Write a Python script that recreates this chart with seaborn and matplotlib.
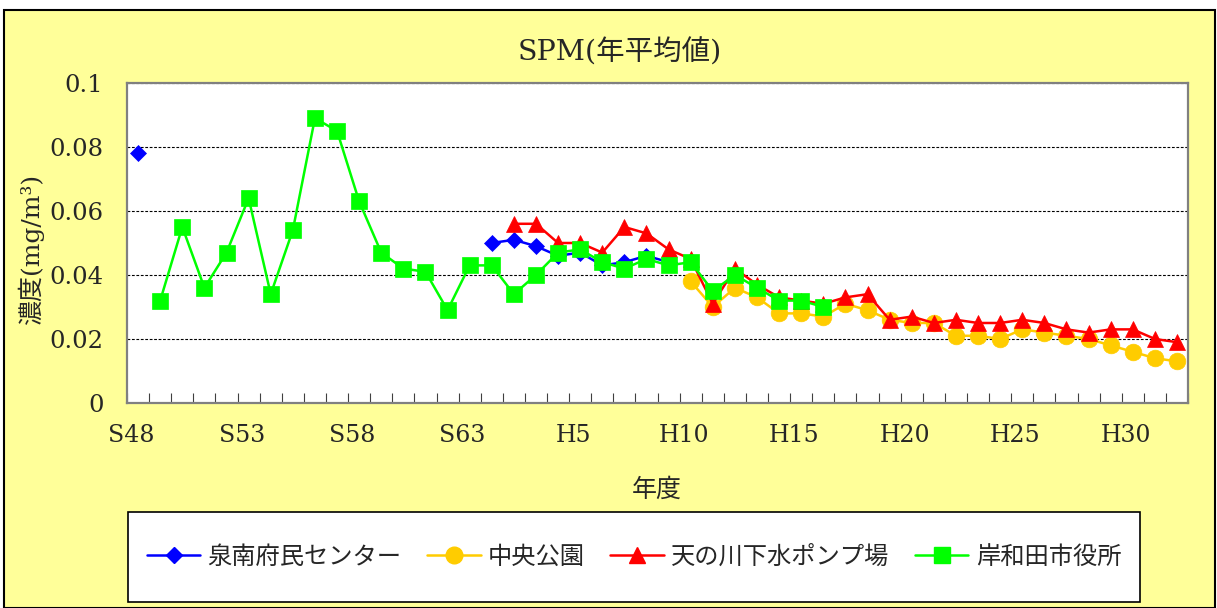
import numpy as np
import pandas as pd
import matplotlib
matplotlib.use("Agg")
import matplotlib.pyplot as plt
import matplotlib.transforms as mtransforms
from matplotlib.patches import Rectangle
from matplotlib.lines import Line2D
import seaborn as sns

nan = np.nan

# 年度ラベル (S48〜R2)
years = [f"S{n}" for n in range(48, 64)] + [f"H{n}" for n in range(1, 31)] + ["R1", "R2"]
shown_labels = ["S48", "S53", "S58", "S63", "H5", "H10", "H15", "H20", "H25", "H30"]

stations = ["泉南府民センター", "中央公園", "天の川下水ポンプ場", "岸和田市役所"]

sennan = ([0.078] + [nan] * 15
          + [0.050, 0.051, 0.049, 0.046, 0.047, 0.043, 0.044, 0.046, 0.044]
          + [nan] * 23)
chuo = [nan] * 25 + [0.038, 0.030, 0.036, 0.033, 0.028, 0.028, 0.027, 0.031, 0.029,
                     0.026, 0.025, 0.025, 0.021, 0.021, 0.020, 0.023, 0.022, 0.021,
                     0.020, 0.018, 0.016, 0.014, 0.013]
amanogawa = [nan] * 17 + [0.056, 0.056, 0.050, 0.050, 0.047, 0.055, 0.053, 0.048, 0.045,
                          0.031, 0.042, 0.037, 0.033, 0.032, 0.031, 0.033, 0.034, 0.026,
                          0.027, 0.025, 0.026, 0.025, 0.025, 0.026, 0.025, 0.023, 0.022,
                          0.023, 0.023, 0.020, 0.019]
kishiwada = [nan, 0.032, 0.055, 0.036, 0.047, 0.064, 0.034, 0.054, 0.089, 0.085, 0.063,
             0.047, 0.042, 0.041, 0.029, 0.043, 0.043, 0.034, 0.040, 0.047, 0.048, 0.044,
             0.042, 0.045, 0.043, 0.044, 0.035, 0.040, 0.036, 0.032, 0.032, 0.030] + [nan] * 16

df = pd.DataFrame({"idx": range(len(years)), "year": years,
                   stations[0]: sennan, stations[1]: chuo,
                   stations[2]: amanogawa, stations[3]: kishiwada})
long = df.melt(id_vars=["idx", "year"], var_name="station", value_name="value")

styles = {
    stations[0]: dict(color="#0000FF", marker="D", ms=8.5),
    stations[1]: dict(color="#FFCC00", marker="o", ms=12),
    stations[2]: dict(color="#FF0000", marker="^", ms=12),
    stations[3]: dict(color="#00FF00", marker="s", ms=12),
}

sns.set_theme(style="white")
plt.rcParams["font.family"] = ["DejaVu Serif", "Noto Sans CJK JP"]

fig = plt.figure(figsize=(12.17, 6.08), dpi=100)
fig.patch.set_facecolor("white")
fig.patches.append(Rectangle((0.003, 0.0), 0.995, 0.983, transform=fig.transFigure,
                             facecolor="#FFFF99", edgecolor="black", lw=1.5, zorder=-10))
# 凡例の枠
fig.patches.append(Rectangle((0.1052, 0.0099), 0.8316, 0.148, transform=fig.transFigure,
                             facecolor="white", edgecolor="black", lw=1.2, zorder=-5))

ax = fig.add_axes([0.1044, 0.3372, 0.8718, 0.5263])
ax.set_facecolor("white")

handles = []
for s in stations:
    st = styles[s]
    sub = long[long["station"] == s].copy()
    sub["seg"] = sub["value"].isna().cumsum()
    sub = sub.dropna()
    sns.lineplot(data=sub, x="idx", y="value", units="seg", estimator=None, sort=False,
                 color=st["color"], marker=st["marker"], markersize=st["ms"],
                 markeredgecolor=st["color"], markeredgewidth=0.5, linewidth=1.8,
                 legend=False, ax=ax)
    handles.append(Line2D([], [], color=st["color"], marker=st["marker"],
                          markersize=st["ms"], markeredgecolor=st["color"], lw=1.8))

ax.set_xlim(-0.5, len(years) - 0.5)
ax.set_ylim(0, 0.1)
ax.set_yticks([0, 0.02, 0.04, 0.06, 0.08, 0.1])
ax.set_yticklabels(["0", "0.02", "0.04", "0.06", "0.08", "0.1"])
ax.yaxis.grid(True, color="black", linestyle=(0, (2.5, 1.5)), linewidth=0.8)
ax.xaxis.grid(False)

tick_pos = [years.index(y) for y in shown_labels]
ax.set_xticks(tick_pos)
ax.set_xticklabels(shown_labels)
ax.set_xticks(np.arange(-0.5, len(years), 1), minor=True)
ax.tick_params(axis="x", which="major", length=0, pad=15, labelsize=17)
ax.tick_params(axis="x", which="minor", direction="in", length=7, width=0.8,
               color="#404040", bottom=True)
ax.tick_params(axis="y", length=0, pad=17, labelsize=17.5)
offset = mtransforms.ScaledTranslation(-7 / 100, 0, fig.dpi_scale_trans)
for lbl in ax.get_xticklabels():
    lbl.set_transform(lbl.get_transform() + offset)
ax.set_xlabel("")
ax.set_ylabel("")
for sp in ax.spines.values():
    sp.set_color("#808080")
    sp.set_linewidth(1.6)

fig.text(0.509, 0.914, "SPM(年平均値)", ha="center", va="center", fontsize=20.5,
         family=["DejaVu Serif", "Noto Sans CJK JP"])
fig.text(0.025, 0.589, "濃度(mg/m³)", ha="center", va="center", rotation=90,
         fontsize=18, family=["DejaVu Serif", "Noto Sans CJK JP"])
fig.text(0.540, 0.194, "年度", ha="center", va="center", fontsize=18,
         family=["Noto Sans CJK JP"])

fig.legend(handles, stations, loc="center", bbox_to_anchor=(0.521, 0.0839), ncol=4,
           frameon=False, handlelength=2.2, columnspacing=1.05, handletextpad=0.3,
           prop={"family": "Noto Sans CJK JP", "size": 17.5})

fig.savefig("out.png", dpi=100, facecolor=fig.get_facecolor())
